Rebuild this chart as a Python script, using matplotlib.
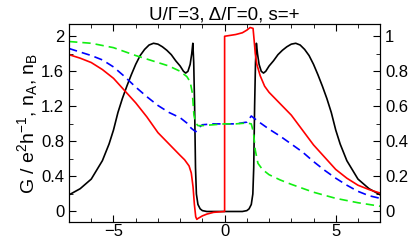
import numpy as np
import matplotlib
matplotlib.use("Agg")
import matplotlib.pyplot as plt
from matplotlib.ticker import MultipleLocator

plt.rcParams['font.family'] = ['Liberation Sans', 'DejaVu Sans']
plt.rcParams['mathtext.fontset'] = 'custom'
plt.rcParams['mathtext.rm'] = 'Liberation Sans'
plt.rcParams['mathtext.it'] = 'Liberation Sans'

# conductance G (black)
x_g = [-7, -6.5, -6, -5.5, -5.2, -5, -4.8, -4.6, -4.4, -4.2, -4.0, -3.8, -3.6, -3.4, -3.2,
       -3.0, -2.8, -2.6, -2.4, -2.2, -2.0, -1.85, -1.75, -1.65, -1.55, -1.48, -1.43,
       -1.39, -1.35, -1.31, -1.27, -1.2, -1.1, -1.0, -0.8, 0,
       0.8, 1.0, 1.1, 1.2, 1.27, 1.31, 1.35, 1.39, 1.43, 1.48, 1.55, 1.65, 1.75, 1.85,
       2.0, 2.2, 2.4, 2.6, 2.8, 3.0, 3.2, 3.4, 3.6, 3.8, 4.0, 4.2, 4.4, 4.6, 4.8, 5,
       5.2, 5.5, 6, 6.5, 7]
g = [0.19, 0.26, 0.37, 0.58, 0.77, 0.93, 1.13, 1.29, 1.43, 1.56, 1.68, 1.78, 1.85, 1.90, 1.92,
     1.91, 1.88, 1.84, 1.79, 1.72, 1.66, 1.60, 1.58, 1.60, 1.68, 1.80, 1.92,
     1.70, 1.20, 0.50, 0.20, 0.08, 0.03, 0.01, 0.0, 0.0,
     0.0, 0.01, 0.03, 0.08, 0.20, 0.50, 1.20, 1.70, 1.92, 1.80, 1.68, 1.60, 1.58, 1.60,
     1.66, 1.72, 1.79, 1.84, 1.88, 1.91, 1.92, 1.90, 1.85, 1.78, 1.68, 1.56, 1.43, 1.29, 1.13, 0.93,
     0.77, 0.58, 0.37, 0.26, 0.19]

# red
x_r = [-7, -6.5, -6, -5.5, -5, -4.5, -4, -3.5, -3, -2.5, -2, -1.8, -1.6, -1.5, -1.42,
       -1.36, -1.3, -1.25, -1.2, -1.0, -0.8, -0.5, 0, 0,
       0.5, 0.8, 1.0, 1.15, 1.28, 1.33, 1.38, 1.45, 1.6, 1.8, 2.0, 2.5, 3, 3.5, 4,
       4.5, 5, 5.5, 6, 6.5, 7]
r = [1.79, 1.75, 1.70, 1.62, 1.52, 1.38, 1.24, 1.08, 0.90, 0.77, 0.64, 0.59, 0.52, 0.44, 0.28,
     0.08, -0.06, -0.09, -0.08, -0.05, -0.03, -0.01, 0.0, 2.0,
     2.02, 2.04, 2.07, 2.10, 2.09, 1.95, 1.80, 1.68, 1.55, 1.43, 1.36, 1.23, 1.10, 0.93, 0.76,
     0.62, 0.48, 0.38, 0.30, 0.25, 0.21]

# blue dashed
x_b = [-7, -6.5, -6, -5.5, -5, -4.5, -4, -3.5, -3, -2.5, -2, -1.7, -1.5, -1.3, -1.15,
       -1.0, -0.5, 0, 0.5, 1.0, 1.2, 1.35, 1.5, 2, 2.5, 3, 3.5, 4, 4.5, 5, 5.5, 6, 6.5, 7]
b = [1.86, 1.82, 1.78, 1.73, 1.65, 1.54, 1.42, 1.31, 1.21, 1.13, 1.07, 1.01, 0.95, 0.91, 0.96,
     0.99, 1.00, 1.00, 1.00, 1.02, 1.09, 1.06, 1.03, 0.94, 0.86, 0.77, 0.68, 0.57, 0.47, 0.38,
     0.30, 0.23, 0.18, 0.15]

# green dashed
x_gr = [-7, -6, -5, -4, -3, -2.5, -2, -1.7, -1.55, -1.45, -1.38, -1.3, -1.2, -1.0, -0.5, 0,
        0.5, 1.0, 1.2, 1.3, 1.38, 1.5, 1.7, 2, 2.5, 3, 4, 5, 6, 7]
gr = [1.94, 1.92, 1.87, 1.78, 1.70, 1.66, 1.60, 1.54, 1.48, 1.35, 1.10, 1.01, 0.98, 0.98, 0.99, 1.00,
      1.00, 1.01, 1.00, 0.90, 0.70, 0.55, 0.48, 0.42, 0.36, 0.31, 0.22, 0.15, 0.10, 0.06]

fig = plt.figure(figsize=(4.11, 2.40), dpi=100)
ax = fig.add_axes([0.168, 0.075, 0.757, 0.825])

ax.plot(x_g, g, color='black', lw=1.2)
ax.plot(x_r, r, color='red', lw=1.2)
ax.plot(x_b, b, color='blue', lw=1.2, dashes=(5, 3))
ax.plot(x_gr, gr, color='#11ee11', lw=1.2, dashes=(5, 3))

ax.set_xlim(-7, 7)
ax.set_ylim(-0.12, 2.14)
ax.xaxis.set_major_locator(MultipleLocator(5))
ax.xaxis.set_minor_locator(MultipleLocator(1))
ax.yaxis.set_minor_locator(MultipleLocator(0.2))
ax.set_yticks([0, 0.4, 0.8, 1.2, 1.6, 2.0])
ax.set_yticklabels(['0', '0.4', '0.8', '1.2', '1.6', '2'])
ax.tick_params(which='both', direction='in', top=True, labelsize=12)
ax.tick_params(axis='x', pad=1.5)
ax.tick_params(which='major', length=5)
ax.tick_params(which='minor', length=3)

ax2 = ax.twinx()
ax2.set_ylim(-0.06, 1.07)
ax2.yaxis.set_minor_locator(MultipleLocator(0.1))
ax2.set_yticks([0, 0.2, 0.4, 0.6, 0.8, 1.0])
ax2.set_yticklabels(['0', '0.2', '0.4', '0.6', '0.8', '1'])
ax2.tick_params(which='both', direction='in', labelsize=12)
ax2.tick_params(which='major', length=5)
ax2.tick_params(which='minor', length=3)

ax.set_ylabel(r'G / e$^2$h$^{-1}$, n$_\mathrm{A}$, n$_\mathrm{B}$', fontsize=14, labelpad=1)
ax.set_title('U/Γ=3, Δ/Γ=0, s=+', fontsize=13.5, pad=3)

fig.savefig('out.png', dpi=100)
